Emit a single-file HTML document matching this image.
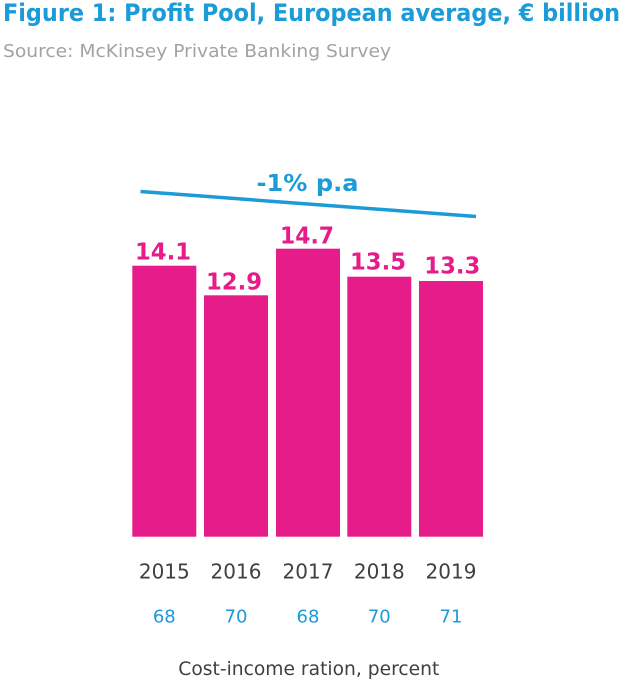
<!DOCTYPE html>
<html><head><meta charset="utf-8"><style>
html,body{margin:0;padding:0;background:#fff;}
svg{display:block;}
</style></head><body>
<svg width="640" height="681" viewBox="0 0 640 681" xmlns="http://www.w3.org/2000/svg">
<text x="3" y="21" font-family="DejaVu Sans, Liberation Sans, sans-serif" font-weight="bold" font-size="24" fill="#1b9bd7" textLength="617" lengthAdjust="spacingAndGlyphs">Figure 1: Profit Pool, European average, € billion</text>
<text x="3" y="57" font-family="DejaVu Sans, Liberation Sans, sans-serif" font-size="18" fill="#a3a3a3" textLength="388" lengthAdjust="spacingAndGlyphs">Source: McKinsey Private Banking Survey</text>

<line x1="140.5" y1="191.5" x2="476" y2="216.5" stroke="#1b9bd7" stroke-width="3.5"/>
<text x="256.5" y="191" font-family="DejaVu Sans, Liberation Sans, sans-serif" font-weight="bold" font-size="23" fill="#1b9bd7" textLength="102" lengthAdjust="spacingAndGlyphs">-1% p.a</text>

<g fill="#e61c8b">
<rect x="132.3" y="265.7" width="64" height="271"/>
<rect x="204" y="295.3" width="64" height="241.4"/>
<rect x="276" y="248.7" width="64" height="288"/>
<rect x="347.3" y="276.7" width="64" height="260"/>
<rect x="419" y="281" width="64" height="255.7"/>
</g>
<g font-family="DejaVu Sans, Liberation Sans, sans-serif" font-weight="bold" font-size="23" fill="#e61c8b">
<text x="135" y="259.3" textLength="56" lengthAdjust="spacingAndGlyphs">14.1</text>
<text x="206" y="289.3" textLength="56" lengthAdjust="spacingAndGlyphs">12.9</text>
<text x="280" y="243.3" textLength="54" lengthAdjust="spacingAndGlyphs">14.7</text>
<text x="350" y="269.3" textLength="56" lengthAdjust="spacingAndGlyphs">13.5</text>
<text x="424.3" y="273.3" textLength="56" lengthAdjust="spacingAndGlyphs">13.3</text>
</g>
<g font-family="DejaVu Sans, Liberation Sans, sans-serif" font-size="20" fill="#404040" text-anchor="middle">
<text x="164.3" y="578.3">2015</text>
<text x="236" y="578.3">2016</text>
<text x="308" y="578.3">2017</text>
<text x="379.3" y="578.3">2018</text>
<text x="451" y="578.3">2019</text>
</g>
<g font-family="DejaVu Sans, Liberation Sans, sans-serif" font-size="18" fill="#1b9bd7" text-anchor="middle">
<text x="164.3" y="622.7">68</text>
<text x="236" y="622.7">70</text>
<text x="308" y="622.7">68</text>
<text x="379.3" y="622.7">70</text>
<text x="451" y="622.7">71</text>
</g>
<text x="178.3" y="675" font-family="DejaVu Sans, Liberation Sans, sans-serif" font-size="19" fill="#404040" textLength="261" lengthAdjust="spacingAndGlyphs">Cost-income ration, percent</text>
</svg>
</body></html>
